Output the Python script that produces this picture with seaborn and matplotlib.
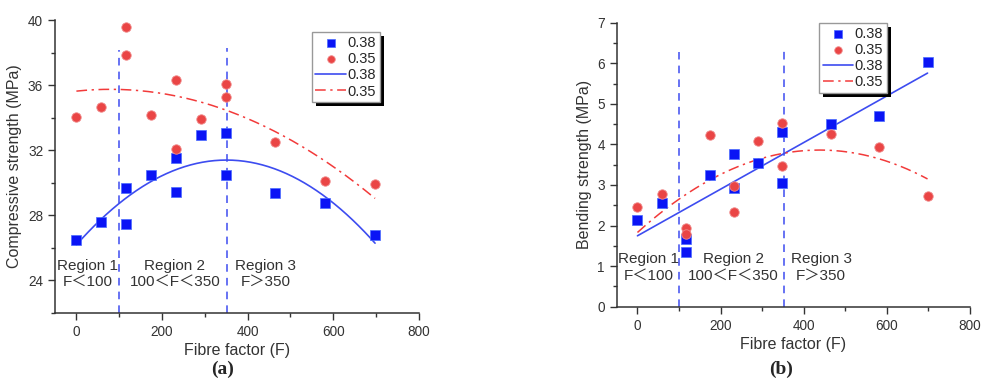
import numpy as np
import pandas as pd
import matplotlib
matplotlib.use('Agg')
import matplotlib.pyplot as plt
import seaborn as sns
from matplotlib.ticker import MultipleLocator
from matplotlib.patches import Rectangle

# ---- data ----
fibre = [0, 58, 116, 116, 175, 233, 233, 291, 349, 349, 465, 581, 698]
comp_038 = [26.5, 27.6, 29.7, 27.45, 30.45, 31.5, 29.45, 32.95, 33.05, 30.5, 29.4, 28.75, 26.8]
comp_035 = [34.05, 34.65, 39.6, 37.85, 34.15, 36.3, 32.05, 33.9, 36.05, 35.3, 32.5, 30.1, 29.95]
bend_038 = [2.14, 2.56, 1.68, 1.36, 3.25, 3.76, 2.92, 3.53, 4.30, 3.05, 4.50, 4.70, 6.02]
bend_035 = [2.45, 2.77, 1.95, 1.79, 4.22, 2.98, 2.33, 4.08, 4.52, 3.47, 4.25, 3.94, 2.73]
series_labels = ['0.38', '0.35']
region_bounds = [100, 352]
region_texts = ['Region 1\nF＜100', 'Region 2\n100＜F＜350', 'Region 3\nF＞350']
region_x = [27, 230, 442]

sns.set_theme(style='ticks')
plt.rcParams['font.family'] = ['Liberation Sans', 'Noto Sans CJK SC', 'DejaVu Sans']

BLUE = '#0a14f5'
BLUE_LINE = '#3d4cf0'
RED = '#ea4545'
RED_LINE = '#f23a3a'
TXT = '#333333'

fig = plt.figure(figsize=(9.84, 3.81), dpi=100)
ax_a = fig.add_axes([0.0559, 0.1785, 0.3696, 0.769])
ax_b = fig.add_axes([0.6267, 0.195, 0.359, 0.7454])

legends = []


def draw(ax, y38, y35, deg38, deg35, ylim, ymaj, ymin, ylabel, reg_y, vtop, leg_anchor):
    df38 = pd.DataFrame({'F': fibre, 'v': y38})
    df35 = pd.DataFrame({'F': fibre, 'v': y35})
    xs = np.linspace(min(fibre), max(fibre), 200)
    fit38 = pd.DataFrame({'F': xs, 'v': np.polyval(np.polyfit(fibre, y38, deg38), xs)})
    fit35 = pd.DataFrame({'F': xs, 'v': np.polyval(np.polyfit(fibre, y35, deg35), xs)})

    for xb, top in zip(region_bounds, vtop):
        ax.plot([xb, xb], [ylim[0], top], color=BLUE_LINE, lw=1.1, ls=(0, (5, 4)), zorder=1)

    sns.scatterplot(data=df38, x='F', y='v', ax=ax, marker='s', s=46, color=BLUE,
                    edgecolor='#4a6cff', linewidth=0.5, label=series_labels[0], zorder=3)
    sns.scatterplot(data=df35, x='F', y='v', ax=ax, marker='o', s=46, color=RED,
                    edgecolor='#f08a8a', linewidth=0.6, label=series_labels[1], zorder=3)
    sns.lineplot(data=fit38, x='F', y='v', ax=ax, color=BLUE_LINE, lw=1.2,
                 label=series_labels[0], zorder=2)
    sns.lineplot(data=fit35, x='F', y='v', ax=ax, color=RED_LINE, lw=1.1,
                 dashes=False, label=series_labels[1], zorder=2)
    ax.lines[-1].set_linestyle((0, (7, 3, 1.5, 3)))

    for t, xr in zip(region_texts, region_x):
        ax.text(xr, reg_y, t, ha='center', va='center', fontsize=11, color=TXT)

    ax.set_xlim(-50, 800)
    ax.set_ylim(*ylim)
    ax.xaxis.set_major_locator(MultipleLocator(200))
    ax.xaxis.set_minor_locator(MultipleLocator(100))
    ax.yaxis.set_major_locator(MultipleLocator(ymaj))
    ax.yaxis.set_minor_locator(MultipleLocator(ymin))
    ax.tick_params(which='major', length=5, width=1, color=TXT, labelsize=9.8,
                   labelcolor=TXT, direction='out')
    ax.tick_params(which='minor', length=3, width=1, color=TXT, direction='out')
    for s in ['top', 'right']:
        ax.spines[s].set_visible(False)
    for s in ['left', 'bottom']:
        ax.spines[s].set_color(TXT)
        ax.spines[s].set_linewidth(1.1)
    ax.set_xlabel('Fibre factor (F)', fontsize=11.5, color=TXT, labelpad=3)
    ax.set_ylabel(ylabel, fontsize=11.5, color=TXT, labelpad=4)

    leg = ax.legend(loc='upper left', bbox_to_anchor=leg_anchor, fontsize=10.5,
                    frameon=True, fancybox=False, edgecolor='#999999', framealpha=1,
                    handlelength=2.1, markerscale=0.8,
                    handletextpad=0.1, labelspacing=0.15, borderpad=0.25,
                    borderaxespad=0.0)
    leg.get_frame().set_linewidth(1.0)
    legends.append((ax, leg))


draw(ax_a, comp_038, comp_035, 2, 2, (22, 40), 4, 2,
     'Compressive strength (MPa)', 24.4, [38.15, 38.3], (0.706, 0.958))
draw(ax_b, bend_038, bend_035, 1, 2, (0, 7), 1, 0.5,
     'Bending strength (MPa)', 0.97, [6.27, 6.33], (0.573, 0.998))

# solid black drop shadow behind each legend box
fig.canvas.draw()
for ax, leg in legends:
    bb = leg.get_frame().get_window_extent()
    sh = Rectangle((bb.x0 + 4, bb.y0 - 4), bb.width, bb.height, transform=None,
                   facecolor='black', edgecolor='none', zorder=4.9, clip_on=False)
    ax.add_artist(sh)

fig.text(0.2266, 0.03, '(a)', ha='center', va='center', fontsize=14,
         family=['Liberation Serif'], fontweight='bold')
fig.text(0.794, 0.03, '(b)', ha='center', va='center', fontsize=14,
         family=['Liberation Serif'], fontweight='bold')

fig.savefig('out.png', dpi=100)
